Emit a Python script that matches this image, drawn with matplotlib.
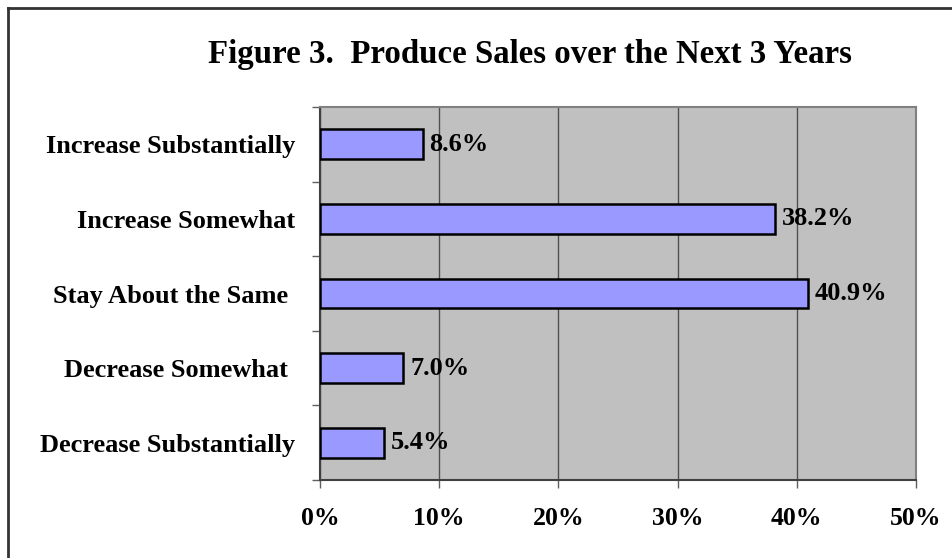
import matplotlib
matplotlib.use("Agg")
import matplotlib.pyplot as plt
from matplotlib.lines import Line2D

categories = ["Decrease Substantially", "Decrease Somewhat ", "Stay About the Same ",
              "Increase Somewhat", "Increase Substantially"]
values = [5.4, 7.0, 40.9, 38.2, 8.6]
xticks = [0, 10, 20, 30, 40, 50]
xtick_labels = ["0%", "10%", "20%", "30%", "40%", "50%"]
title = "Figure 3.  Produce Sales over the Next 3 Years"

plt.rcParams["font.family"] = ["Liberation Serif", "DejaVu Serif"]
plt.rcParams["font.weight"] = "bold"

fig = plt.figure(figsize=(9.52, 5.58), dpi=100)
ax = fig.add_axes([320 / 952, 1 - 480 / 558, (916 - 320) / 952, (480 - 107) / 558])
ax.set_facecolor("#C0C0C0")

ypos = list(range(len(categories)))
ax.barh(ypos, values, height=0.4, color="#9999FF", edgecolor="black", linewidth=1.8, zorder=3)

for y, v in zip(ypos, values):
    ax.annotate(f"{v:.1f}%", (v, y), xytext=(5, 0), textcoords="offset points",
                va="center", ha="left", fontsize=19, fontweight="bold", zorder=4)

ax.set_xlim(0, 50)
ax.set_ylim(-0.5, len(categories) - 0.5)
ax.set_xticks(xticks)
ax.set_xticklabels(xtick_labels, fontsize=18.5, fontweight="bold")
ax.set_yticks(ypos)
ax.set_yticklabels(categories, fontsize=19, fontweight="bold")
ax.tick_params(axis="y", length=0, pad=18)
ax.tick_params(axis="x", length=6, width=1, color="#606060", pad=13.5)
ax.set_yticks([i - 0.5 for i in range(len(categories) + 1)], minor=True)
ax.tick_params(axis="y", which="minor", length=6, width=1, color="#606060")

ax.grid(axis="x", color="#505050", linewidth=1.0, zorder=1)
for side in ["top", "right"]:
    ax.spines[side].set_color("#808080")
    ax.spines[side].set_linewidth(1.5)
for side in ["left", "bottom"]:
    ax.spines[side].set_color("#404040")
    ax.spines[side].set_linewidth(1.5)

fig.text(530 / 952, 1 - 55 / 558, title, ha="center", va="center",
         fontsize=23.7, fontweight="bold")

# chart frame: only the top and left edges fall inside the image
fig.add_artist(Line2D([8 / 952, 8 / 952], [0, 1 - 8 / 558], transform=fig.transFigure,
                      color="#333333", linewidth=2))
fig.add_artist(Line2D([8 / 952, 1], [1 - 8 / 558, 1 - 8 / 558], transform=fig.transFigure,
                      color="#333333", linewidth=2))

fig.savefig("out.png", dpi=100)
